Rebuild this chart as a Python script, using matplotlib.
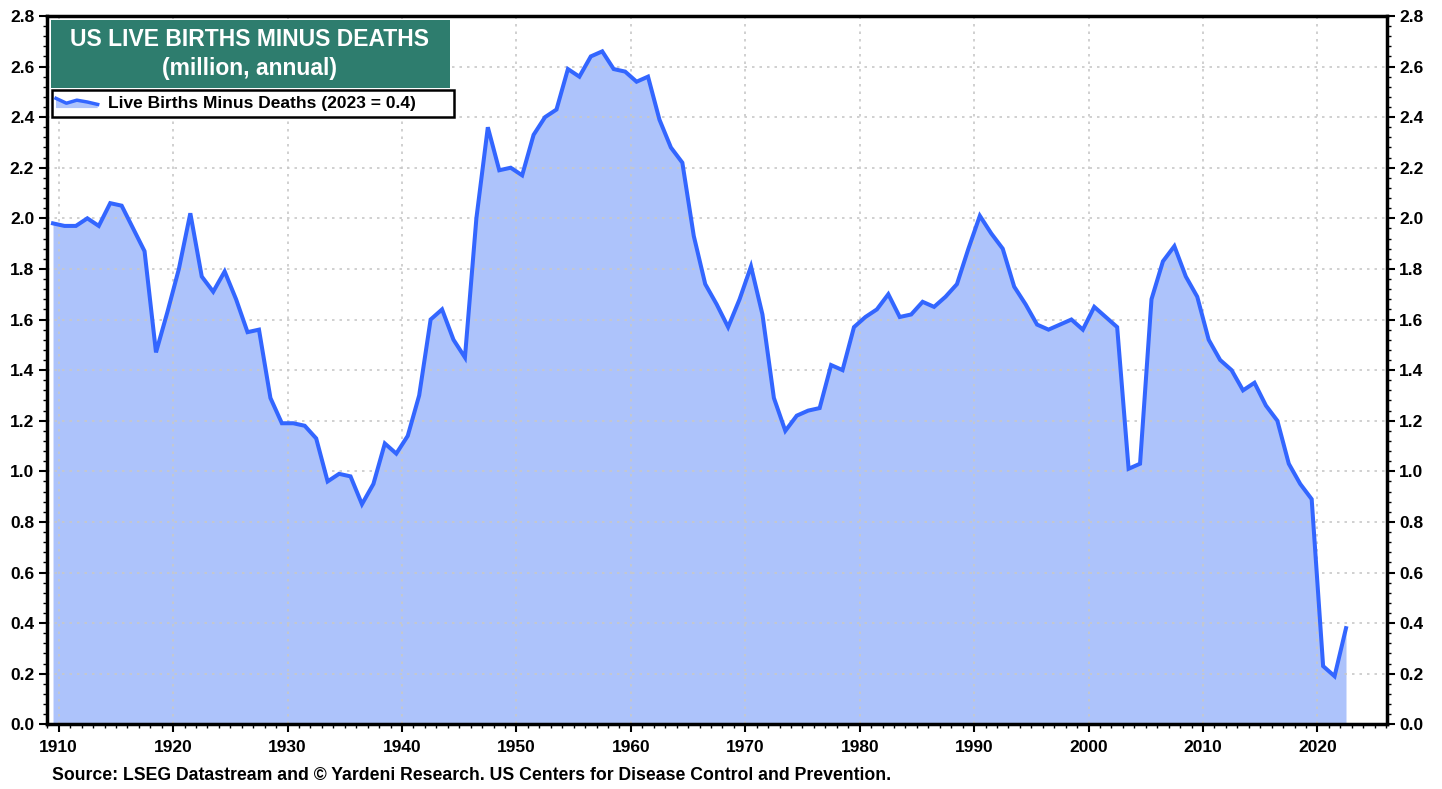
import numpy as np
import matplotlib
matplotlib.use("Agg")
from matplotlib import pyplot as plt
from matplotlib.patches import Rectangle, Polygon
from matplotlib.lines import Line2D
from matplotlib.legend_handler import HandlerBase
from matplotlib.ticker import MultipleLocator

plt.rcParams['font.family'] = ['Liberation Sans', 'DejaVu Sans']
plt.rcParams['font.weight'] = 'bold'

# Data (million, annual)
years = np.arange(1910, 2024)
net = [1.98, 1.97, 1.97, 2.00, 1.97, 2.06, 2.05, 1.96, 1.87, 1.47,
       1.63, 1.80, 2.02, 1.77, 1.71, 1.79, 1.68, 1.55, 1.56, 1.29,
       1.19, 1.19, 1.18, 1.13, 0.96, 0.99, 0.98, 0.87, 0.95, 1.11,
       1.07, 1.14, 1.30, 1.60, 1.64, 1.52, 1.45, 2.00, 2.36, 2.19,
       2.20, 2.17, 2.33, 2.40, 2.43, 2.59, 2.56, 2.64, 2.66, 2.59,
       2.58, 2.54, 2.56, 2.39, 2.28, 2.22, 1.93, 1.74, 1.66, 1.57,
       1.68, 1.81, 1.62, 1.29, 1.16, 1.22, 1.24, 1.25, 1.42, 1.40,
       1.57, 1.61, 1.64, 1.70, 1.61, 1.62, 1.67, 1.65, 1.69, 1.74,
       1.88, 2.01, 1.94, 1.88, 1.73, 1.66, 1.58, 1.56, 1.58, 1.60,
       1.56, 1.65, 1.61, 1.57, 1.01, 1.03, 1.68, 1.83, 1.89, 1.77,
       1.69, 1.52, 1.44, 1.40, 1.32, 1.35, 1.26, 1.20, 1.03, 0.95,
       0.89, 0.23, 0.19, 0.38]
x_ticks = np.arange(1910, 2030, 10)
y_ticks = np.arange(0, 2.81, 0.2)

title = "US LIVE BIRTHS MINUS DEATHS\n(million, annual)"
label = "Live Births Minus Deaths (2023 = 0.4)"
source = "Source: LSEG Datastream and \u00a9 Yardeni Research. US Centers for Disease Control and Prevention."

line_col = '#3366ff'
fill_col = '#adc3fb'
green = '#2e7d6e'

# annual values are drawn at mid-point between year ticks
xpos = years - 0.5


class ZigzagHandler(HandlerBase):
    def create_artists(self, legend, orig, xd, yd, w, h, fontsize, trans):
        xs = np.array([0, 0.25, 0.5, 0.75, 1.0]) * w - xd
        ys = np.array([0.8, 0.4, 0.65, 0.5, 0.3]) * h - yd
        poly = Polygon(list(zip(xs, ys)) + [(xs[-1], -yd), (xs[0], -yd)],
                       closed=True, facecolor=fill_col, edgecolor='none',
                       transform=trans)
        ln = Line2D(xs, ys, color=line_col, lw=2.5, transform=trans)
        return [poly, ln]


fig = plt.figure(figsize=(14.42, 7.89), dpi=100)
ax = fig.add_axes([0.0324, 0.082, 0.9292, 0.8978])

ax.fill_between(xpos, net, 0, color=fill_col, lw=0, zorder=1)
ax.plot(xpos, net, color=line_col, lw=2.9, zorder=2, solid_joinstyle='miter')

ax.set_xlim(1908.95, 2026.05)
ax.set_ylim(0, 2.8)
ax.set_xticks(x_ticks)
ax.set_yticks(y_ticks)
ax.set_yticklabels([f"{v:.1f}" for v in y_ticks])
ax.xaxis.set_minor_locator(MultipleLocator(1))
ax.yaxis.set_minor_locator(MultipleLocator(0.04))
ax.tick_params(axis='both', which='major', direction='out', length=6, width=1.5,
               labelsize=12.5, left=True, right=True, labelleft=True, labelright=True)
ax.tick_params(axis='both', which='minor', direction='out', length=3, width=1,
               left=True, right=True)
ax.tick_params(axis='x', pad=5)
ax.tick_params(axis='y', pad=3)
for lab in ax.get_xticklabels() + ax.get_yticklabels():
    lab.set_fontweight('bold')
for s in ax.spines.values():
    s.set_linewidth(2.5)
ax.grid(True, which='major', color='#c8c8c8', linestyle=(0, (1.5, 3)), lw=1.2)
for gl in ax.get_xgridlines() + ax.get_ygridlines():
    gl.set_zorder(0.5)

# title box
fig.patches.append(Rectangle((51 / 1442, 1 - 88 / 789), 399 / 1442, 68 / 789,
                             transform=fig.transFigure, facecolor=green,
                             edgecolor='none', zorder=5))
fig.text(250 / 1442, 1 - 54 / 789, title, ha='center', va='center',
         color='white', fontsize=16.5, fontweight='bold', linespacing=1.35, zorder=6)

# legend box + legend
fig.patches.append(Rectangle((52 / 1442, 1 - 117 / 789), 402 / 1442, 27 / 789,
                             transform=fig.transFigure, facecolor='white',
                             edgecolor='black', lw=1.8, zorder=5))
handle = Rectangle((0, 0), 1, 1)
leg = fig.legend([handle], [label], handler_map={Rectangle: ZigzagHandler()},
                 loc='center left', bbox_to_anchor=(56 / 1442, 1 - 103.5 / 789),
                 borderaxespad=0, borderpad=0, frameon=False, fontsize=12.5,
                 handlelength=2.4, handletextpad=0.6)
leg.set_zorder(7)
for t in leg.get_texts():
    t.set_fontweight('bold')

fig.text(52 / 1442, 1 - 775 / 789, source, ha='left', va='center',
         fontsize=12.7, fontweight='bold')

fig.savefig('out.png', dpi=100)
